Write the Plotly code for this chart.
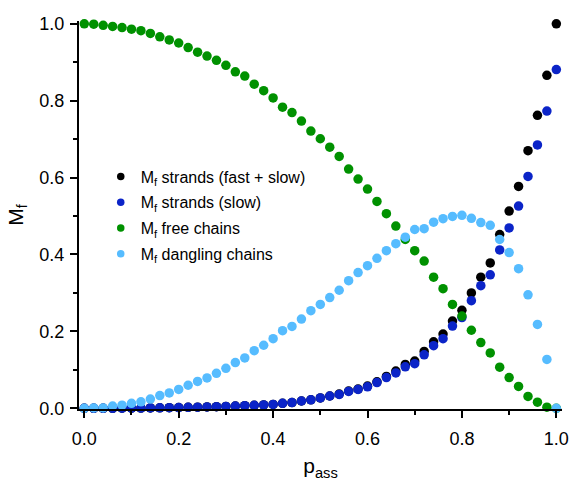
import plotly.graph_objects as go

p_ass = [round(i * 0.02, 2) for i in range(51)]

strands_fast_slow = [0.000, 0.000, 0.000, 0.000, 0.0002, 0.0004, 0.0006, 0.0009, 0.0012, 0.0016,
                     0.0020, 0.0025, 0.0030, 0.0036, 0.0042, 0.0050, 0.0058, 0.0067, 0.0077, 0.0088,
                     0.010, 0.013, 0.015, 0.019, 0.022, 0.027, 0.032, 0.037, 0.045, 0.050,
                     0.058, 0.069, 0.083, 0.097, 0.114, 0.123, 0.148, 0.173, 0.193, 0.227,
                     0.255, 0.300, 0.341, 0.378, 0.452, 0.513, 0.577, 0.670, 0.762, 0.866, 1.000]

strands_slow = [0.000, 0.000, 0.000, 0.000, 0.0002, 0.0004, 0.0006, 0.0009, 0.0012, 0.0016,
                0.0020, 0.0025, 0.0030, 0.0036, 0.0042, 0.0050, 0.0058, 0.0067, 0.0077, 0.0088,
                0.010, 0.013, 0.015, 0.019, 0.022, 0.027, 0.032, 0.036, 0.044, 0.049,
                0.056, 0.067, 0.080, 0.092, 0.108, 0.116, 0.139, 0.163, 0.181, 0.214,
                0.236, 0.280, 0.319, 0.347, 0.412, 0.469, 0.526, 0.603, 0.685, 0.773, 0.881]

free_chains = [1.000, 0.999, 0.996, 0.993, 0.990, 0.986, 0.982, 0.975, 0.966, 0.958,
               0.950, 0.938, 0.926, 0.916, 0.905, 0.892, 0.875, 0.864, 0.843, 0.826,
               0.807, 0.783, 0.769, 0.747, 0.721, 0.701, 0.679, 0.655, 0.622, 0.596,
               0.570, 0.538, 0.506, 0.474, 0.439, 0.410, 0.383, 0.341, 0.311, 0.270,
               0.240, 0.203, 0.171, 0.144, 0.107, 0.080, 0.057, 0.031, 0.016, 0.003, 0.000]

dangling_chains = [0.000, 0.001, 0.001, 0.006, 0.008, 0.013, 0.017, 0.024, 0.033, 0.040,
                   0.049, 0.060, 0.070, 0.079, 0.091, 0.104, 0.119, 0.131, 0.150, 0.164,
                   0.181, 0.202, 0.213, 0.232, 0.254, 0.270, 0.288, 0.307, 0.332, 0.353,
                   0.371, 0.390, 0.410, 0.428, 0.445, 0.465, 0.467, 0.484, 0.493, 0.499,
                   0.502, 0.494, 0.483, 0.476, 0.439, 0.405, 0.363, 0.295, 0.218, 0.127, 0.000]

series_names = ["M<sub>f</sub> strands (fast + slow)", "M<sub>f</sub> strands (slow)",
                "M<sub>f</sub> free chains", "M<sub>f</sub> dangling chains"]
series_values = [strands_fast_slow, strands_slow, free_chains, dangling_chains]
colors = ["#000000", "#0B24C8", "#009100", "#56BCFF"]

tick_vals = [0.0, 0.2, 0.4, 0.6, 0.8, 1.0]
tick_text = ["0.0", "0.2", "0.4", "0.6", "0.8", "1.0"]

FONT = "Arial, Liberation Sans, sans-serif"

fig = go.Figure()
for name, vals, col in zip(series_names, series_values, colors):
    fig.add_trace(go.Scatter(x=p_ass, y=vals, mode="markers", showlegend=False,
                             marker=dict(color=col, size=9.5, line=dict(width=0)),
                             cliponaxis=False))
# legend entries (smaller symbols as in the reference)
for i, (name, col) in enumerate(zip(series_names, colors)):
    fig.add_trace(go.Scatter(x=[None], y=[None], mode="markers", name=name,
                             legendgroup=str(i),
                             marker=dict(color=col, size=7.5)))

axis_common = dict(
    showline=True, linecolor="black", linewidth=2, mirror=False,
    ticks="outside", ticklen=7, tickwidth=1.5, tickcolor="black",
    tickvals=tick_vals, ticktext=tick_text,
    tickfont=dict(family=FONT, size=18, color="black"),
    showgrid=False, zeroline=False,
    minor=dict(ticks="outside", ticklen=4, tickwidth=1.5, tickcolor="black", dtick=0.1, showgrid=False),
)

fig.update_layout(
    width=581, height=486,
    margin=dict(l=79, r=16, t=21, b=74),
    paper_bgcolor="white", plot_bgcolor="white",
    font=dict(family=FONT, color="black"),
    xaxis=dict(range=[-0.0112, 1.012], title=dict(text="p<sub>ass</sub>",
               font=dict(family=FONT, size=21), standoff=11),
               ticklabelstandoff=5, **axis_common),
    yaxis=dict(range=[-0.0018, 1.0072], title=dict(text="M<sub>f</sub>",
               font=dict(family=FONT, size=21), standoff=10),
               ticklabelstandoff=2, **axis_common),
    legend=dict(x=0.045, y=0.643, xanchor="left", yanchor="top",
                font=dict(family=FONT, size=16, color="black"),
                bgcolor="rgba(0,0,0,0)", borderwidth=0, tracegroupgap=2),
)

fig.write_html("out.html", config={"displayModeBar": False},
               post_script="document.body.style.margin='0';document.body.style.padding='0';")
